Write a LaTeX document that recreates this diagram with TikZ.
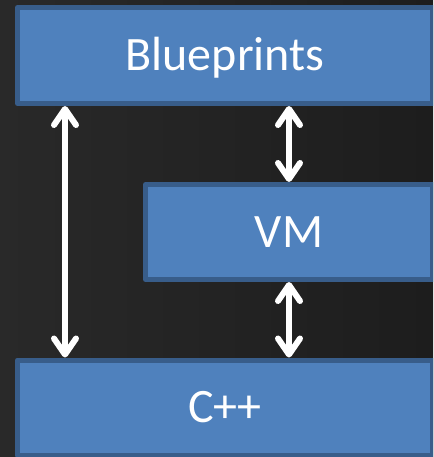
\documentclass[tikz,border=0pt]{standalone}
\usepackage{fontspec}
\setmainfont{Carlito}
\usetikzlibrary{arrows.meta}
\definecolor{boxfill}{HTML}{4F81BD}
\definecolor{boxline}{HTML}{385D8A}
\definecolor{bgleft}{HTML}{2F2F2F}
\definecolor{bgright}{HTML}{171717}
% plain left-to-right ramp over the full width
\pgfdeclarehorizontalshading{bgramp}{100bp}{color(0bp)=(bgleft); color(100bp)=(bgright)}
\tikzset{
  layer/.style={draw=boxline, fill=boxfill, line width=5pt, line join=round,
    inner sep=0pt, text=white, font=\fontsize{48}{57}\selectfont,
    text height=30.3pt, text depth=0pt},
  dblarrow/.style={draw=white, line width=6pt,
    {Straight Barb[length=16pt, width=22pt, round]}-{Straight Barb[length=16pt, width=22pt, round]}}
}
\begin{document}
\begin{tikzpicture}[x=1pt, y=-1pt]
  % canvas and background
  \useasboundingbox (0,0) rectangle (433,457);
  \clip (0,0) rectangle (433,457);
  \shade[shading=bgramp] (0,0) rectangle (433,457);

  % the three layers
  \node[layer, minimum width=415pt, minimum height=96pt] (bp)  at (225,55.5)  {Blueprints};
  \node[layer, minimum width=287pt, minimum height=95pt] (vm)  at (289,232)   {VM};
  \node[layer, minimum width=415pt, minimum height=95pt] (cpp) at (225,407.5) {C++};

  % connections between layers
  \coordinate (L) at (65,0);
  \draw[dblarrow] (bp.south -| L) -- (cpp.north -| L);
  \draw[dblarrow] (bp.south -| vm.north) -- (vm.north);
  \draw[dblarrow] (vm.south) -- (cpp.north -| vm.south);
\end{tikzpicture}
\end{document}
